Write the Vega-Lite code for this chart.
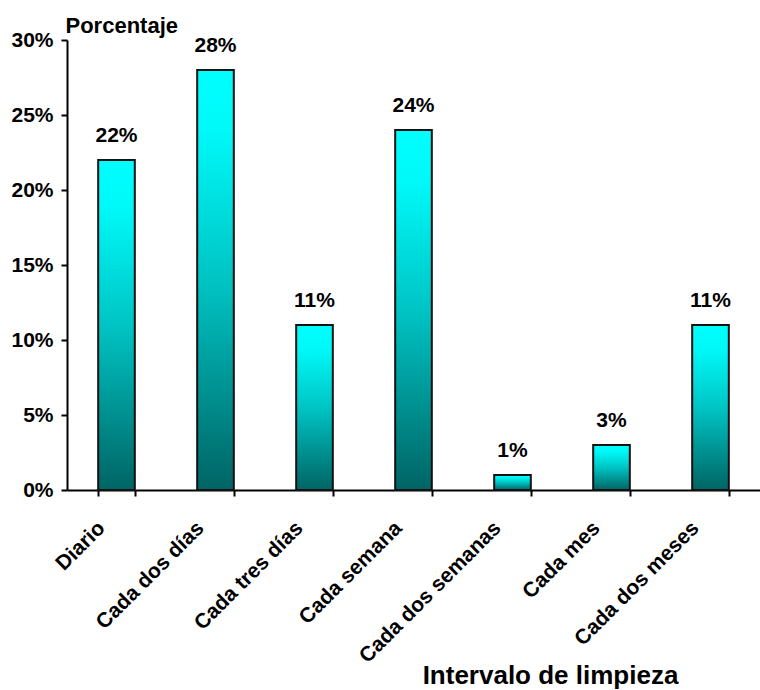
{
  "$schema": "https://vega.github.io/schema/vega-lite/v6.json",
  "width": 693,
  "height": 450,
  "autosize": {"type": "none"},
  "padding": {"left": 67, "top": 40, "right": 0, "bottom": 200},
  "background": "white",
  "config": {
    "view": {"stroke": null},
    "font": "Liberation Sans"
  },
  "data": {
    "values": [
      {"intervalo": "Diario", "pct": 0.22},
      {"intervalo": "Cada dos días", "pct": 0.28},
      {"intervalo": "Cada tres días", "pct": 0.11},
      {"intervalo": "Cada semana", "pct": 0.24},
      {"intervalo": "Cada dos semanas", "pct": 0.01},
      {"intervalo": "Cada mes", "pct": 0.03},
      {"intervalo": "Cada dos meses", "pct": 0.11}
    ]
  },
  "encoding": {
    "x": {
      "field": "intervalo",
      "type": "nominal",
      "sort": null,
      "scale": {"paddingInner": 0.63, "paddingOuter": 0.315},
      "axis": {
        "title": "Intervalo de limpieza",
        "titleFontSize": 26,
        "titleFontWeight": "bold",
        "titleColor": "black",
        "titleX": 483,
        "titleY": 193,
        "titleBaseline": "alphabetic",
        "labelAngle": -45,
        "labelAlign": "right",
        "labelBaseline": "top",
        "labelFontSize": 21,
        "labelFontWeight": "bold",
        "labelColor": "black",
        "labelPadding": 21,
        "labelOffset": -23,
        "labelLimit": 400,
        "labelOverlap": false,
        "domainColor": "black",
        "domainWidth": 2,
        "tickColor": "black",
        "tickWidth": 2,
        "tickSize": 6,
        "tickBand": "extent",
        "grid": false
      }
    },
    "y": {
      "field": "pct",
      "type": "quantitative",
      "scale": {"domain": [0, 0.3], "nice": false},
      "axis": {
        "values": [0, 0.05, 0.1, 0.15, 0.2, 0.25, 0.3],
        "format": ".0%",
        "title": "Porcentaje",
        "titleAngle": 0,
        "titleAlign": "left",
        "titleBaseline": "alphabetic",
        "titleX": -2,
        "titleY": -8,
        "titleFontSize": 22,
        "titleFontWeight": "bold",
        "titleColor": "black",
        "labelFontSize": 21,
        "labelFontWeight": "bold",
        "labelColor": "black",
        "labelPadding": 8,
        "domainColor": "black",
        "domainWidth": 2,
        "tickColor": "black",
        "tickWidth": 2,
        "tickSize": 6,
        "grid": false
      }
    }
  },
  "layer": [
    {
      "mark": {
        "type": "bar",
        "stroke": "#111111",
        "strokeWidth": 2,
        "fill": {
          "gradient": "linear",
          "x1": 0, "y1": 0, "x2": 0, "y2": 1,
          "stops": [
            {"offset": 0, "color": "#00FFFF"},
            {"offset": 0.15, "color": "#00F8F8"},
            {"offset": 0.5, "color": "#00C4C4"},
            {"offset": 1, "color": "#006464"}
          ]
        }
      }
    },
    {
      "mark": {
        "type": "text",
        "dy": -18,
        "baseline": "alphabetic",
        "fontSize": 21,
        "fontWeight": "bold",
        "color": "black"
      },
      "encoding": {
        "text": {"field": "pct", "type": "quantitative", "format": ".0%"}
      }
    }
  ]
}
